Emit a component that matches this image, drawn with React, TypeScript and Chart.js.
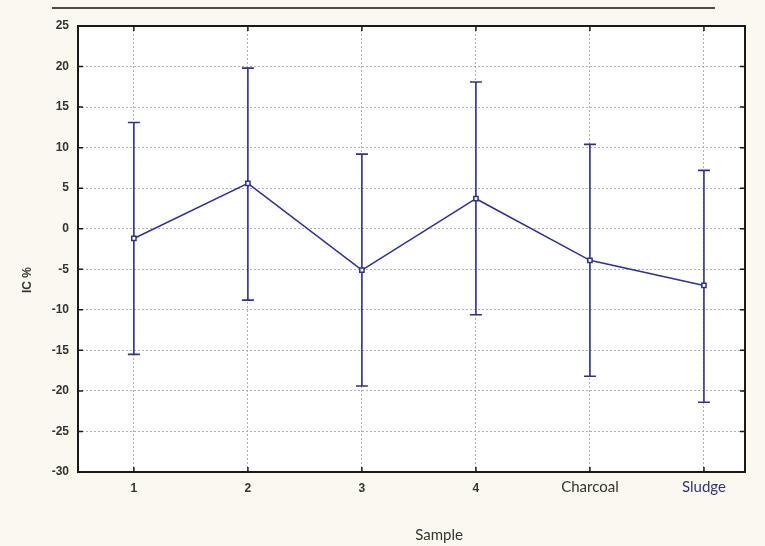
import React, { useEffect, useRef } from "react";
import { Chart, registerables } from "chart.js";

Chart.register(...registerables);

const categories = ["1", "2", "3", "4", "Charcoal", "Sludge"];
const means = [-1.2, 5.6, -5.1, 3.7, -3.9, -7.0];
const upper = [13.1, 19.8, 9.2, 18.1, 10.4, 7.2];
const lower = [-15.5, -8.8, -19.4, -10.6, -18.2, -21.4];
const yMin = -30;
const yMax = 25;
const yStep = 5;
const xTitle = "Sample";
const yTitle = "IC %";

const NAVY = "#2e3192";
const NARROW = "'Liberation Sans Narrow', 'Liberation Sans'";

const decorPlugin = {
  id: "decor",
  beforeDraw(chart: any) {
    const { ctx, chartArea: a, width, height } = chart;
    ctx.save();
    ctx.fillStyle = "#fbf9ef";
    ctx.fillRect(0, 0, width, height);
    ctx.fillStyle = "#ffffff";
    ctx.fillRect(a.left, a.top, a.right - a.left, a.bottom - a.top);
    ctx.strokeStyle = "#111";
    ctx.lineWidth = 1.5;
    ctx.beginPath();
    ctx.moveTo(52, 8);
    ctx.lineTo(715, 8);
    ctx.stroke();
    ctx.restore();
  },
  beforeDatasetsDraw(chart: any) {
    const { ctx } = chart;
    const xs = chart.scales.x;
    const ys = chart.scales.y;
    ctx.save();
    ctx.strokeStyle = NAVY;
    ctx.lineWidth = 1.6;
    categories.forEach((_, i) => {
      const px = xs.getPixelForValue(i + 1);
      const pu = ys.getPixelForValue(upper[i]);
      const pl = ys.getPixelForValue(lower[i]);
      ctx.beginPath();
      ctx.moveTo(px, pu);
      ctx.lineTo(px, pl);
      ctx.moveTo(px - 6, pu);
      ctx.lineTo(px + 6, pu);
      ctx.moveTo(px - 6, pl);
      ctx.lineTo(px + 6, pl);
      ctx.stroke();
    });
    ctx.restore();
  },
  afterDraw(chart: any) {
    const { ctx, chartArea: a } = chart;
    const xs = chart.scales.x;
    const ys = chart.scales.y;
    ctx.save();
    ctx.strokeStyle = "#1a1a1a";
    ctx.lineWidth = 2;
    ctx.strokeRect(a.left, a.top, a.right - a.left, a.bottom - a.top);
    ctx.lineWidth = 1.5;
    ctx.beginPath();
    xs.ticks.forEach((t: any) => {
      const px = xs.getPixelForValue(t.value);
      ctx.moveTo(px, a.bottom);
      ctx.lineTo(px, a.bottom - 5);
      ctx.moveTo(px, a.top);
      ctx.lineTo(px, a.top + 5);
    });
    ys.ticks.forEach((t: any) => {
      const py = ys.getPixelForValue(t.value);
      ctx.moveTo(a.left, py);
      ctx.lineTo(a.left + 5, py);
      ctx.moveTo(a.right, py);
      ctx.lineTo(a.right - 5, py);
    });
    ctx.stroke();
    ctx.fillStyle = "#333";
    ctx.font = "15px Lato";
    ctx.textAlign = "center";
    ctx.textBaseline = "middle";
    ctx.fillText(xTitle, 439, 535);
    ctx.translate(28, 280);
    ctx.rotate(-Math.PI / 2);
    ctx.font = "bold 12px " + NARROW;
    ctx.fillText(yTitle, 0, 0);
    ctx.restore();
  },
};

export default function App() {
  const ref = useRef<HTMLCanvasElement | null>(null);
  useEffect(() => {
    if (!ref.current) return;
    const chart = new Chart(ref.current, {
      type: "line",
      data: {
        datasets: [
          {
            data: categories.map((_, i) => ({ x: i + 1, y: means[i] })),
            borderColor: NAVY,
            borderWidth: 1.5,
            pointStyle: "rect",
            pointRadius: 3,
            pointBackgroundColor: "#ffffff",
            pointBorderColor: NAVY,
            pointBorderWidth: 1.5,
            tension: 0,
          },
        ],
      },
      options: {
        responsive: false,
        animation: false,
        events: [],
        layout: { padding: { top: 26, right: 20, left: 0, bottom: 0 } },
        plugins: { legend: { display: false }, tooltip: { enabled: false } },
        scales: {
          x: {
            type: "linear",
            min: 0.51,
            max: 6.36,
            afterBuildTicks: (s: any) => {
              s.ticks = categories.map((_, i) => ({ value: i + 1 }));
            },
            afterFit: (s: any) => {
              s.height = 74;
            },
            border: { display: false, dash: [2, 2] },
            grid: { drawTicks: false, color: "#b0b0b0", lineWidth: 1 },
            ticks: {
              autoSkip: false,
              maxRotation: 0,
              padding: 15,
              crossAlign: "center",
              callback: (v: any) => categories[Number(v) - 1] ?? "",
              color: (c: any) => (c.index === 5 ? "#33337a" : "#333333"),
              font: (c: any) =>
                c.index >= 4
                  ? { family: "Lato", size: 15 }
                  : { family: NARROW, size: 12, weight: "bold" },
            },
          },
          y: {
            min: yMin,
            max: yMax,
            afterFit: (s: any) => {
              s.width = 78;
            },
            border: { display: false, dash: [2, 2] },
            grid: { drawTicks: false, color: "#b0b0b0", lineWidth: 1 },
            ticks: {
              stepSize: yStep,
              padding: 9,
              color: "#333333",
              font: { family: NARROW, size: 12, weight: "bold" },
            },
          },
        },
      },
      plugins: [decorPlugin],
    });
    return () => chart.destroy();
  }, []);
  return (
    <div style={{ position: "fixed", left: 0, top: 0, width: 765, height: 546 }}>
      <canvas ref={ref} width={765} height={546} style={{ width: 765, height: 546 }} />
    </div>
  );
}
